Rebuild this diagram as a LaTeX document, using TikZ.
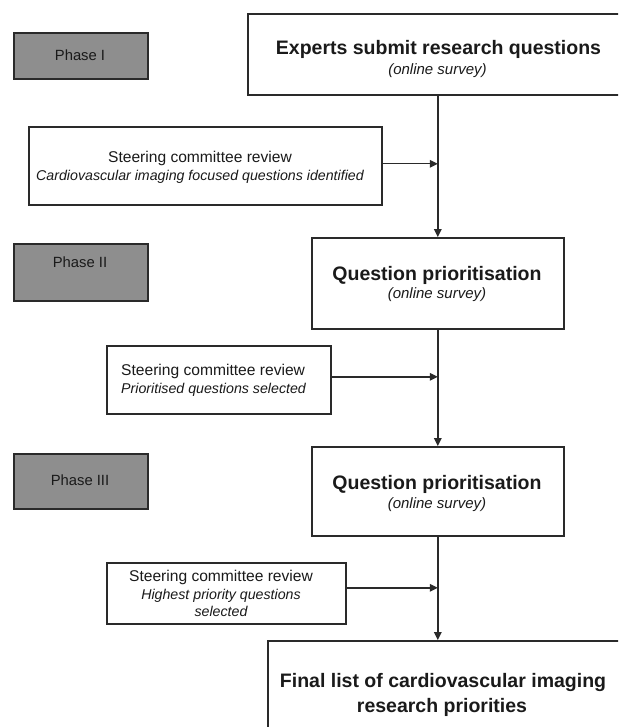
\documentclass[tikz,border=0pt]{standalone}
\usepackage{fontspec}
\setmainfont{Liberation Sans}
\usetikzlibrary{arrows.meta}
\definecolor{bordc}{HTML}{2A2A2A}
\definecolor{phasec}{HTML}{8E8E8E}
\definecolor{txtc}{HTML}{1A1A1A}
\begin{document}
\begin{tikzpicture}[x=1pt,y=-1pt,
  box/.style={draw=bordc, line width=1.6pt, fill=white, rectangle, inner sep=0pt, anchor=north west},
  phasebox/.style={box, fill=phasec, minimum width=134pt},
  lbl/.style={anchor=base, inner sep=0pt, text=txtc},
  ttl/.style={lbl, font=\fontsize{19.5}{23}\selectfont\bfseries},
  sub/.style={lbl, font=\fontsize{15}{18}\selectfont\itshape},
  rev/.style={lbl, font=\fontsize{15.6}{18}\selectfont},
  revi/.style={lbl, font=\fontsize{14.2}{17}\selectfont\itshape},
  ph/.style={lbl, font=\fontsize{14.8}{17}\selectfont},
  conn/.style={draw=bordc, line width=1.4pt, -{Triangle[length=8pt,width=7.5pt]}}]
\useasboundingbox (0,0) rectangle (618,727);
\clip (0,0) rectangle (618,727);
\fill[white] (0,0) rectangle (618,727);

% phase boxes
\node[phasebox, minimum height=46pt] (p1) at (13,32) {};
\node[phasebox, minimum height=57pt] (p2) at (13,243) {};
\node[phasebox, minimum height=55pt] (p3) at (13,453) {};
\node[ph] (p1t) at (80,60.5) {Phase I};
\node[ph] (p2t) at (80,267.5) {Phase II};
\node[ph] (p3t) at (80,485.5) {Phase III};

% main boxes
\node[box, minimum width=383pt, minimum height=81pt] (ex) at (247,13) {};
\node[box, minimum width=252pt, minimum height=91pt] (q1) at (311,237) {};
\node[box, minimum width=252pt, minimum height=89pt] (q2) at (311,446) {};
\node[box, minimum width=363pt, minimum height=100pt] (fin) at (267,640) {};

% steering boxes
\node[box, minimum width=353pt, minimum height=78pt] (s1) at (28,126) {};
\node[box, minimum width=224pt, minimum height=68pt] (s2) at (106,345) {};
\node[box, minimum width=239pt, minimum height=61pt] (s3) at (106,562) {};

% texts
\node[ttl] (ext) at (438.5,55) {Experts submit research questions};
\node[sub] (exs) at (437.5,75) {(online survey)};
\node[ttl] (q1t) at (437,280.5) {Question prioritisation};
\node[sub] (q1s) at (437,298) {(online survey)};
\node[ttl] (q2t) at (437,489.5) {Question prioritisation};
\node[sub] (q2s) at (437,508) {(online survey)};
\node[ttl] (fint) at (443,687) {Final list of cardiovascular imaging};
\node[ttl] (fins) at (442,712) {research priorities};

\node[rev] (s1a) at (200,163) {Steering committee review};
\node[revi] (s1b) at (200,180.5) {Cardiovascular imaging focused questions identified};
\node[rev, anchor=base west] (s2a) at (121,375.5) {Steering committee review};
\node[revi, anchor=base west] (s2b) at (121,393) {Prioritised questions selected};
\node[rev] (s3a) at (221,581.5) {Steering committee review};
\node[revi] (s3b) at (221,599) {Highest priority questions};
\node[revi] (s3c) at (221,616) {selected};

% connectors
\draw[conn] (q1.north |- ex.south) -- (q1.north);
\draw[conn] (q1.south) -- (q2.north);
\draw[conn] (q2.south) -- (q2.south |- fin.north);
\draw[conn] ([yshift=2pt]s1.east) -- ([yshift=2pt]s1.east -| q1.north);
\draw[conn] ([yshift=3pt]s2.east) -- ([yshift=3pt]s2.east -| q1.north);
\draw[conn] ([yshift=5.5pt]s3.east) -- ([yshift=5.5pt]s3.east -| q1.north);
\end{tikzpicture}
\end{document}
